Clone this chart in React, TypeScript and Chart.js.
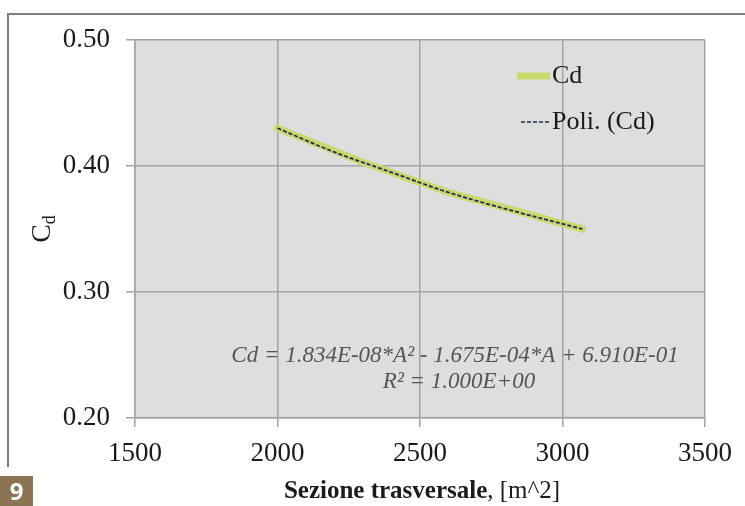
import React, { useEffect, useRef } from "react";
import { Chart, registerables } from "chart.js";

Chart.register(...registerables);

// Data
const areas = [2000, 2300, 2600, 3070];
const cdValues = [0.430, 0.403, 0.379, 0.350];
const trendAreas = [2000, 2200, 2400, 2600, 2800, 3070];
const trendValues = [0.430, 0.411, 0.395, 0.379, 0.366, 0.350];
const xTicks = [1500, 2000, 2500, 3000, 3500];
const yTicks = [0.2, 0.3, 0.4, 0.5];
const legendLabels = ["Cd", "Poli. (Cd)"];
const equationLines = [
  "Cd = 1.834E-08*A\u00B2 - 1.675E-04*A + 6.910E-01",
  "R\u00B2 = 1.000E+00",
];
const xTitleBold = "Sezione trasversale";
const xTitleRest = ", [m^2]";
const yTitleMain = "C";
const yTitleSub = "d";
const figureNumber = "9";

const SERIF = "'Liberation Serif', 'Times New Roman', serif";
const GREEN = "#cbd96c";
const NAVY = "#262859";

const decorPlugin = {
  id: "decor",
  beforeDraw(chart: any) {
    const { ctx, chartArea } = chart;
    ctx.save();
    ctx.fillStyle = "#dedede";
    ctx.fillRect(chartArea.left, chartArea.top, chartArea.right - chartArea.left, chartArea.bottom - chartArea.top);
    ctx.restore();
  },
  afterDraw(chart: any) {
    const { ctx, chartArea } = chart;
    ctx.save();
    // Legend
    const lx = chartArea.left + (517 - 135);
    const ly1 = 76;
    const ly2 = 122;
    ctx.strokeStyle = GREEN;
    ctx.lineWidth = 7;
    ctx.beginPath();
    ctx.moveTo(lx, ly1);
    ctx.lineTo(lx + 33, ly1);
    ctx.stroke();
    ctx.strokeStyle = NAVY;
    ctx.lineWidth = 1.5;
    ctx.setLineDash([4, 2]);
    ctx.beginPath();
    ctx.moveTo(lx + 4, ly2);
    ctx.lineTo(lx + 33, ly2);
    ctx.stroke();
    ctx.setLineDash([]);
    ctx.fillStyle = "#1a1a1a";
    ctx.font = `26px ${SERIF}`;
    ctx.textBaseline = "middle";
    ctx.textAlign = "left";
    ctx.fillText(legendLabels[0], lx + 35, ly1);
    ctx.fillText(legendLabels[1], lx + 35, ly2);

    // Equation
    ctx.fillStyle = "#555555";
    ctx.font = `italic 23px ${SERIF}`;
    ctx.textAlign = "center";
    ctx.fillText(equationLines[0], 455, 356);
    ctx.fillText(equationLines[1], 459, 382);

    // X title
    ctx.fillStyle = "#1a1a1a";
    ctx.textBaseline = "alphabetic";
    ctx.textAlign = "left";
    ctx.font = `bold 25px ${SERIF}`;
    const wb = ctx.measureText(xTitleBold).width;
    ctx.font = `25px ${SERIF}`;
    const wr = ctx.measureText(xTitleRest).width;
    const cx = 422;
    const sx = cx - (wb + wr) / 2;
    ctx.font = `bold 25px ${SERIF}`;
    ctx.fillText(xTitleBold, sx, 498);
    ctx.font = `25px ${SERIF}`;
    ctx.fillText(xTitleRest, sx + wb, 498);

    // Y title (rotated, with subscript)
    ctx.translate(50, (chartArea.top + chartArea.bottom) / 2);
    ctx.rotate(-Math.PI / 2);
    ctx.font = `28px ${SERIF}`;
    const wc = ctx.measureText(yTitleMain).width;
    ctx.font = `18px ${SERIF}`;
    const wd = ctx.measureText(yTitleSub).width;
    const start = -(wc + wd) / 2;
    ctx.font = `28px ${SERIF}`;
    ctx.fillText(yTitleMain, start, 0);
    ctx.font = `18px ${SERIF}`;
    ctx.fillText(yTitleSub, start + wc, 5);
    ctx.restore();
  },
};

export default function App() {
  const canvasRef = useRef<HTMLCanvasElement | null>(null);

  useEffect(() => {
    if (!canvasRef.current) return;
    const chart = new Chart(canvasRef.current, {
      type: "line",
      data: {
        datasets: [
          {
            label: legendLabels[0],
            data: areas.map((a, i) => ({ x: a, y: cdValues[i] })),
            borderColor: GREEN,
            borderWidth: 7,
            pointRadius: 0,
            tension: 0,
            borderCapStyle: "round",
            borderJoinStyle: "round",
            order: 2,
          },
          {
            label: legendLabels[1],
            data: trendAreas.map((a, i) => ({ x: a, y: trendValues[i] })),
            borderColor: NAVY,
            borderWidth: 1.8,
            borderDash: [4, 2],
            pointRadius: 0,
            cubicInterpolationMode: "monotone",
            order: 1,
          },
        ],
      },
      options: {
        animation: false,
        responsive: false,
        layout: { padding: { left: 0, top: 40, right: 40, bottom: 0 } },
        plugins: { legend: { display: false }, tooltip: { enabled: false } },
        scales: {
          x: {
            type: "linear",
            min: xTicks[0],
            max: xTicks[xTicks.length - 1],
            afterBuildTicks: (s: any) => {
              s.ticks = xTicks.map((v) => ({ value: v }));
            },
            afterFit: (s: any) => {
              s.height = 88;
            },
            grid: { color: "#a3a3a3", lineWidth: 1.5, tickLength: 9 },
            border: { color: "#a3a3a3", width: 1.5 },
            ticks: {
              padding: 11,
              color: "#1a1a1a",
              font: { family: SERIF, size: 27 },
              maxRotation: 0,
              callback: (v: any) => String(v),
            },
          },
          y: {
            type: "linear",
            min: yTicks[0],
            max: yTicks[yTicks.length - 1],
            afterBuildTicks: (s: any) => {
              s.ticks = yTicks.map((v) => ({ value: v }));
            },
            afterFit: (s: any) => {
              s.width = 135;
            },
            grid: { color: "#a3a3a3", lineWidth: 1.5, tickLength: 9 },
            border: { color: "#a3a3a3", width: 1.5 },
            ticks: {
              padding: 16,
              color: "#1a1a1a",
              font: { family: SERIF, size: 27 },
              callback: (v: any) => Number(v).toFixed(2),
            },
          },
        },
      },
      plugins: [decorPlugin],
    } as any);
    return () => chart.destroy();
  }, []);

  return (
    <div style={{ position: "fixed", left: 0, top: 0, width: 745, height: 506, background: "#fff", overflow: "hidden" }}>
      <div
        style={{
          position: "absolute",
          left: 7,
          top: 13,
          width: 760,
          height: 452,
          borderTop: "2px solid #808080",
          borderLeft: "2px solid #808080",
        }}
      />
      <canvas ref={canvasRef} width={745} height={506} style={{ position: "absolute", left: 0, top: 0 }} />
      <div
        style={{
          position: "absolute",
          left: 0,
          top: 476,
          width: 33,
          height: 30,
          background: "#8a7454",
          color: "#fff",
          fontFamily: "'Open Sans', 'DejaVu Sans', sans-serif",
          fontWeight: 700,
          fontSize: 24,
          lineHeight: "30px",
          textAlign: "center",
        }}
      >
        {figureNumber}
      </div>
    </div>
  );
}
